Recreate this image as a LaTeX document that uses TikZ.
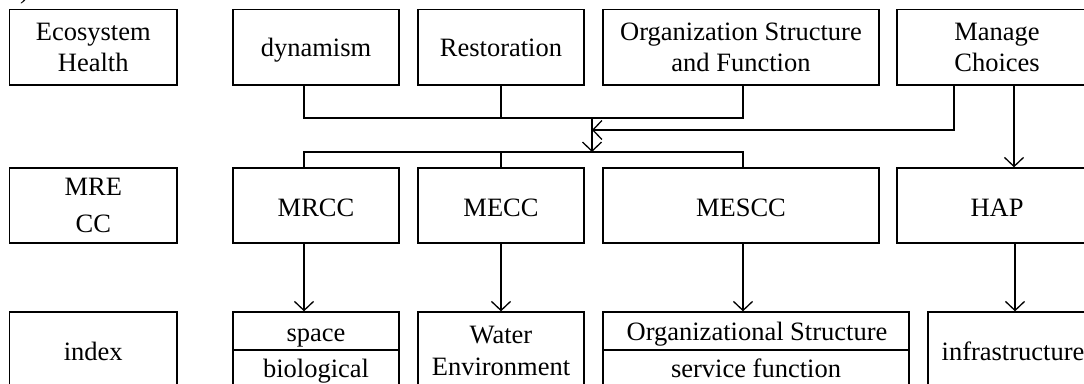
\documentclass[tikz,border=0pt]{standalone}
\usepackage{fontspec}
\setmainfont{Liberation Serif}
\usetikzlibrary{arrows.meta}
\begin{document}
\begin{tikzpicture}[x=1pt,y=-1pt,
  box/.style={draw, line width=1.3pt, inner sep=0pt, align=center,
    font=\fontsize{26.5}{31.5}\selectfont},
  txt/.style={inner sep=0pt, anchor=base, font=\fontsize{26.5}{31.5}\selectfont},
  ln/.style={line width=1.3pt},
  arr/.style={line width=1.3pt, -{Straight Barb[length=9pt,width=19pt]}}]
\useasboundingbox (0,0) rectangle (1084,383);
\clip (0,0) rectangle (1084,383);

\node[inner sep=0pt, anchor=base west, font=\fontsize{26.5}{31.5}\selectfont] (frag) at (20,-2) {)};

% top row
\node[box, minimum width=167.5pt, minimum height=75.5pt] (eco) at (93.25,47.25) {Ecosystem\\Health};
\node[box, minimum width=166pt, minimum height=75.5pt] (dyn) at (316,47.25) {};
\node[txt] (dynt) at (316,56) {dynamism};
\node[box, minimum width=166pt, minimum height=75.5pt] (res) at (501,47.25) {};
\node[txt] (rest) at (501,56.5) {Restoration};
\node[box, minimum width=276pt, minimum height=75.5pt] (org) at (741,47.25) {Organization Structure\\and Function};
\node[box, minimum width=200pt, minimum height=75.5pt] (man) at (997,47.25) {Manage\\Choices};

% middle row
\node[box, minimum width=167.5pt, minimum height=75pt, font=\fontsize{26.5}{36.6}\selectfont] (mre) at (93.25,205.5) {MRE\\CC};
\node[box, minimum width=166pt, minimum height=75pt] (mrcc) at (316,205.5) {};
\node[txt] (mrcct) at (316,216.5) {MRCC};
\node[box, minimum width=166pt, minimum height=75pt] (mecc) at (501,205.5) {};
\node[txt] (mecct) at (501,216.5) {MECC};
\node[box, minimum width=276pt, minimum height=75pt] (mescc) at (741,205.5) {};
\node[txt] (mescct) at (741,216.5) {MESCC};
\node[box, minimum width=200pt, minimum height=75pt] (hap) at (997,205.5) {};
\node[txt] (hapt) at (997,216.5) {HAP};

% bottom row
\node[box, minimum width=167.5pt, minimum height=78pt] (idx) at (93.25,351) {};
\node[txt] (idxt) at (93.25,360) {index};
\node[box, minimum width=166pt, minimum height=38pt] (spc) at (316,331) {};
\node[txt] (spct) at (316,341.5) {space};
\node[box, minimum width=166pt, minimum height=40pt] (bio) at (316,370) {};
\node[txt] (biot) at (316,377) {biological};
\node[box, minimum width=166pt, minimum height=78pt] (wat) at (501,351) {Water\\Environment};
\node[box, minimum width=306pt, minimum height=38pt] (ost) at (756,331) {};
\node[txt] (ostt) at (757,340.5) {Organizational Structure};
\node[box, minimum width=306pt, minimum height=40pt] (svc) at (756,370) {};
\node[txt] (svct) at (756,377) {service function};
\node[box, minimum width=170pt, minimum height=78pt] (inf) at (1013,351) {};
\node[txt] (inft) at (1013,360) {infrastructure};

% junction points
\coordinate (ub) at (592,118);
\coordinate (lb) at (592,152);
\coordinate (mj) at (592,130);

% upper bus
\draw[ln] ([xshift=-12pt]dyn.south) -- ([xshift=-12pt]dyn.south |- ub) -- ([xshift=2pt]org.south |- ub) -- ([xshift=2pt]org.south);
\draw[ln] (res.south) -- (res.south |- ub);
\draw[arr] (ub) -- (lb);
\draw[arr] ([xshift=-43pt]man.south) |- (mj);
\draw[arr] ([xshift=17pt]man.south) -- ([xshift=17pt]hap.north);

% lower bus
\draw[ln] ([xshift=-12pt]mrcc.north) -- ([xshift=-12pt]mrcc.north |- lb) -- ([xshift=2pt]mescc.north |- lb) -- ([xshift=2pt]mescc.north);
\draw[ln] (mecc.north) -- (mecc.north |- lb);

% down arrows
\draw[arr] ([xshift=-12pt]mrcc.south) -- ([xshift=-12pt]mrcc.south |- spc.north);
\draw[arr] (mecc.south) -- (wat.north);
\draw[arr] ([xshift=2pt]mescc.south) -- ([xshift=2pt]mescc.south |- ost.north);
\draw[arr] ([xshift=18pt]hap.south) -- ([xshift=18pt]hap.south |- inf.north);
\end{tikzpicture}
\end{document}
